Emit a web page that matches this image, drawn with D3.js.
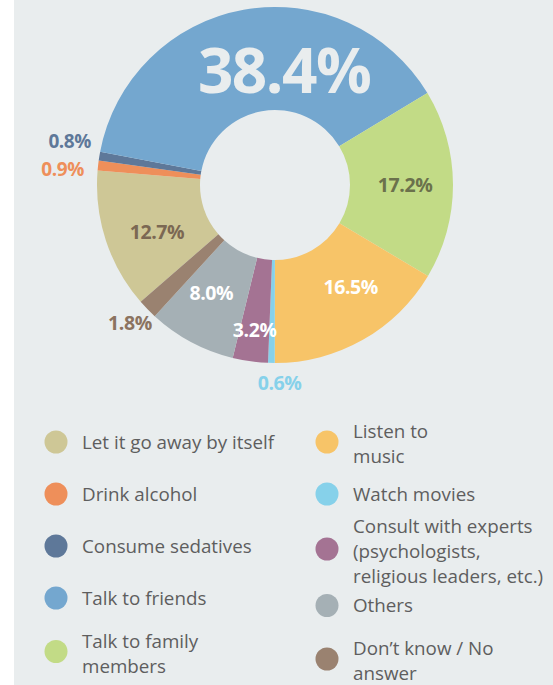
<!DOCTYPE html>
<html>
<head>
<meta charset="utf-8">
<script src="https://cdn.jsdelivr.net/npm/d3@7"></script>
<style>
  html, body { margin: 0; padding: 0; background: #fff; }
  svg { display: block; }
</style>
</head>
<body>
<svg id="chart"></svg>
<script>
// categories in clockwise order, starting with "Let it go away by itself"
const categories = [
  "Let it go away by itself",
  "Drink alcohol",
  "Consume sedatives",
  "Talk to friends",
  "Talk to family members",
  "Listen to music",
  "Watch movies",
  "Consult with experts (psychologists, religious leaders, etc.)",
  "Others",
  "Don’t know / No answer"
];
const shares = [12.7, 0.9, 0.8, 38.4, 17.2, 16.5, 0.6, 3.2, 8.0, 1.8];
const valueLabels = ["12.7%", "0.9%", "0.8%", "38.4%", "17.2%", "16.5%", "0.6%", "3.2%", "8.0%", "1.8%"];

// legend text, split as in the original
const legendLines = [
  ["Let it go away by itself"],
  ["Drink alcohol"],
  ["Consume sedatives"],
  ["Talk to friends"],
  ["Talk to family", "members"],
  ["Listen to", "music"],
  ["Watch movies"],
  ["Consult with experts", "(psychologists,", "religious leaders, etc.)"],
  ["Others"],
  ["Don’t know / No", "answer"]
];

const colors = ["#cec796", "#ee8f5a", "#5e7899", "#74a7cf", "#c2db86",
                "#f7c468", "#86d1ea", "#a47393", "#a5b0b5", "#9a8270"];

// label styling: radius from centre, angle nudge (deg), colour, size
const labelStyle = [
  {r: 127, nudge: -3.5, fill: "#7b6853", size: 19.5},
  {r: 213, nudge: -2,   fill: "#ee8f5a", size: 19},
  {r: 210, nudge: 2.8,  fill: "#5e7899", size: 19},
  {r: 115, nudge: 14.7, fill: "#e9edee", size: 62},
  {r: 130, nudge: 0,    fill: "#6b714c", size: 19.5},
  {r: 127, nudge: -7,   fill: "#ffffff", size: 19.5},
  {r: 198, nudge: -2.5, fill: "#86d1ea", size: 19.5},
  {r: 146, nudge: 0,    fill: "#ffffff", size: 19.5},
  {r: 125, nudge: 2.5,  fill: "#ffffff", size: 19.5},
  {r: 200, nudge: 0.7,  fill: "#8b7360", size: 19.5}
];

const W = 553, H = 685;
const cx = 275, cy = 185, outerR = 178, innerR = 75;
const deg = Math.PI / 180;
const startA = -131 * deg;
const font = "'Open Sans', 'Noto Sans', sans-serif";

const data = categories.map((c, i) => ({
  name: c, value: shares[i], label: valueLabels[i], color: colors[i],
  lines: legendLines[i], style: labelStyle[i]
}));

const svg = d3.select("#chart").attr("width", W).attr("height", H);

// grey panel
svg.append("rect")
  .attr("x", 14).attr("y", 0)
  .attr("width", W - 14).attr("height", H)
  .attr("fill", "#e9edee");

const pie = d3.pie()
  .sort(null)
  .value(d => d.value)
  .startAngle(startA)
  .endAngle(startA + 2 * Math.PI);

const arc = d3.arc().innerRadius(innerR).outerRadius(outerR);

const arcs = pie(data);

const g = svg.append("g").attr("transform", `translate(${cx},${cy})`);

g.selectAll("path.slice")
  .data(arcs)
  .join("path")
  .attr("class", "slice")
  .attr("d", arc)
  .attr("fill", d => d.data.color);

// value labels
g.selectAll("text.val")
  .data(arcs)
  .join("text")
  .attr("class", "val")
  .attr("transform", d => {
    const s = d.data.style;
    const a = (d.startAngle + d.endAngle) / 2 + s.nudge * deg;
    const p = d3.arc().innerRadius(s.r).outerRadius(s.r)
      .centroid({startAngle: a, endAngle: a});
    return `translate(${p[0]},${p[1]})`;
  })
  .attr("text-anchor", "middle")
  .attr("dy", "0.36em")
  .attr("font-family", font)
  .attr("font-weight", 700)
  .attr("font-size", d => d.data.style.size)
  .attr("letter-spacing", d => d.data.style.size > 40 ? -1.5 : -0.4)
  .attr("fill", d => d.data.style.fill)
  .text(d => d.data.label);

// legend: two columns of five
const colX = d3.scaleOrdinal().domain([0, 1]).range([56, 327]);
const lineH = 25;
const legend = svg.append("g");

[0, 1].forEach(col => {
  const items = data.slice(col * 5, col * 5 + 5);
  let y = 442;
  items.forEach((d, i) => {
    if (i > 0) {
      const prev = items[i - 1].lines.length;
      y += 52 + 4.5 * Math.max(0, prev - 2) + 1.5 * (d.lines.length - 1);
    }
    const item = legend.append("g").attr("transform", `translate(${colX(col)},${y})`);
    item.append("circle").attr("r", 11.5).attr("fill", d.color);
    const n = d.lines.length;
    item.selectAll("text")
      .data(d.lines)
      .join("text")
      .attr("x", 26)
      .attr("y", (t, k) => (k - (n - 1) / 2) * lineH + (n > 1 ? 2 : 0))
      .attr("dy", "0.35em")
      .attr("font-family", font)
      .attr("font-size", 18.8)
      .attr("fill", "#5e5e5e")
      .text(t => t);
  });
});
</script>
</body>
</html>
